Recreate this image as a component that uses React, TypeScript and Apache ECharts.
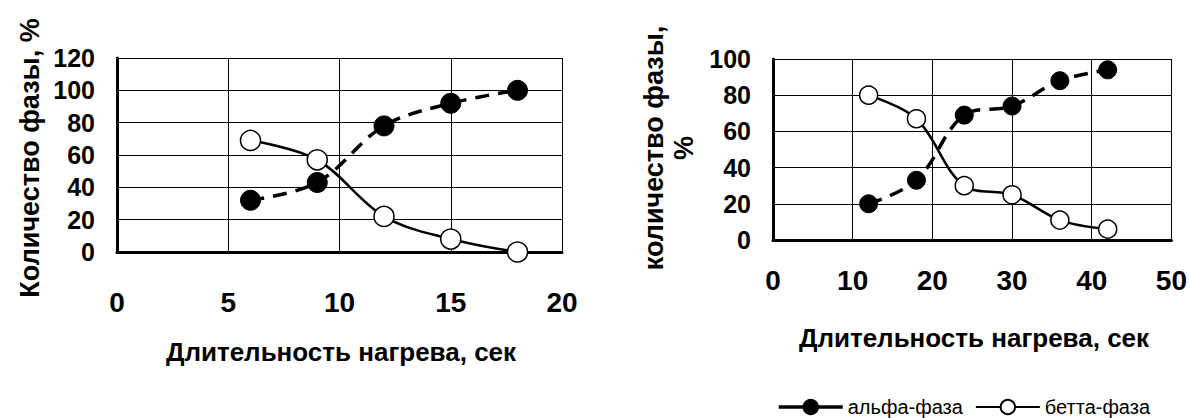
import React, { useEffect, useRef } from "react";
import * as echarts from "echarts";

const leftX = [6, 9, 12, 15, 18];
const leftAlpha = [32, 43, 78, 92, 100];
const leftBeta = [69, 57, 22, 8, 0];

const rightX = [12, 18, 24, 30, 36, 42];
const rightAlpha = [20, 33, 69, 74, 88, 94];
const rightBeta = [80, 67, 30, 25, 11, 6];

const leftXTicks = { min: 0, max: 20, interval: 5 };
const leftYTicks = { min: 0, max: 120, interval: 20 };
const rightXTicks = { min: 0, max: 50, interval: 10 };
const rightYTicks = { min: 0, max: 100, interval: 20 };

const seriesNames = ["альфа-фаза", "бетта-фаза"];
const yTitleLeft = "Количество фазы, %";
const yTitleRight1 = "количество фазы,";
const yTitleRight2 = "%";
const xTitle = "Длительность нагрева, сек";

const FONT = "'Liberation Sans', Arial, sans-serif";
const NARROW = "'Liberation Sans Narrow', 'Arial Narrow', 'Liberation Sans', Arial, sans-serif";

function pairs(xs: number[], ys: number[]) {
  return xs.map((x, i) => [x, ys[i]]);
}

export default function App() {
  const ref = useRef<HTMLDivElement>(null);
  useEffect(() => {
    if (!ref.current) return;
    const chart = echarts.init(ref.current, null, { renderer: "svg" });

    const axisCommon = (t: any, margin: number, fs: number) => ({
      type: "value",
      min: t.min,
      max: t.max,
      interval: t.interval,
      axisLine: { show: true, onZero: false, lineStyle: { color: "#000", width: 3 } },
      axisTick: { show: false },
      axisLabel: { color: "#000", fontSize: fs, fontWeight: "bold", fontFamily: NARROW, margin },
      splitLine: { show: true, lineStyle: { color: "#000", width: 1 } },
    });

    const alphaSeries = (idx: number, data: number[][], size: number) => ({
      name: seriesNames[0],
      type: "line",
      xAxisIndex: idx,
      yAxisIndex: idx,
      data,
      smooth: 0.35,
      clip: false,
      symbol: "circle",
      symbolSize: size,
      lineStyle: { color: "#000", width: 3.5, type: [14, 9] },
      itemStyle: { color: "#000", borderColor: "#000", borderWidth: 1 },
      z: 3,
    });
    const betaSeries = (idx: number, data: number[][], size: number) => ({
      name: seriesNames[1],
      type: "line",
      xAxisIndex: idx,
      yAxisIndex: idx,
      data,
      smooth: 0.35,
      clip: false,
      symbol: "circle",
      symbolSize: size,
      lineStyle: { color: "#000", width: 2.5, type: "solid" },
      itemStyle: { color: "#fff", borderColor: "#000", borderWidth: 1.5 },
      z: 2,
    });

    const vText = (x: number, y: number, text: string, size: number) => ({
      type: "text",
      x,
      y,
      rotation: Math.PI / 2,
      style: {
        text,
        align: "center",
        verticalAlign: "middle",
        font: `bold ${size}px ${FONT}`,
        fill: "#000",
      },
    });
    const hText = (x: number, y: number, text: string, size: number) => ({
      type: "text",
      x,
      y,
      style: {
        text,
        align: "center",
        verticalAlign: "middle",
        font: `bold ${size}px ${FONT}`,
        fill: "#000",
      },
    });

    const option: any = {
      animation: false,
      backgroundColor: "#fff",
      grid: [
        { left: 117, top: 58, width: 445, height: 194 },
        { left: 773, top: 59, width: 401, height: 181 },
      ],
      xAxis: [
        { ...axisCommon(leftXTicks, 36, 28), gridIndex: 0 },
        { ...axisCommon(rightXTicks, 26, 28), gridIndex: 1 },
      ],
      yAxis: [
        { ...axisCommon(leftYTicks, 22, 25), gridIndex: 0 },
        { ...axisCommon(rightYTicks, 22, 25), gridIndex: 1 },
      ],
      legend: {
        left: 772,
        top: 392,
        itemGap: 12,
        itemWidth: 64,
        itemHeight: 18,
        textStyle: { color: "#000", fontSize: 20, fontFamily: FONT },
        data: [
          { name: seriesNames[0], lineStyle: { type: "solid", width: 3.5 } },
          { name: seriesNames[1], lineStyle: { type: "solid", width: 2 } },
        ],
      },
      graphic: [
        vText(30, 158, yTitleLeft, 27),
        hText(341, 352, xTitle, 26),
        vText(654, 148, yTitleRight1, 27),
        vText(684, 148, yTitleRight2, 27),
        hText(974, 338, xTitle, 26),
      ],
      series: [
        betaSeries(0, pairs(leftX, leftBeta), 20),
        alphaSeries(0, pairs(leftX, leftAlpha), 20),
        betaSeries(1, pairs(rightX, rightBeta), 18),
        alphaSeries(1, pairs(rightX, rightAlpha), 18),
      ],
    };
    chart.setOption(option);
    return () => chart.dispose();
  }, []);
  return (
    <div
      ref={ref}
      style={{ position: "fixed", left: 0, top: 0, width: 1190, height: 418, background: "#fff" }}
    />
  );
}
